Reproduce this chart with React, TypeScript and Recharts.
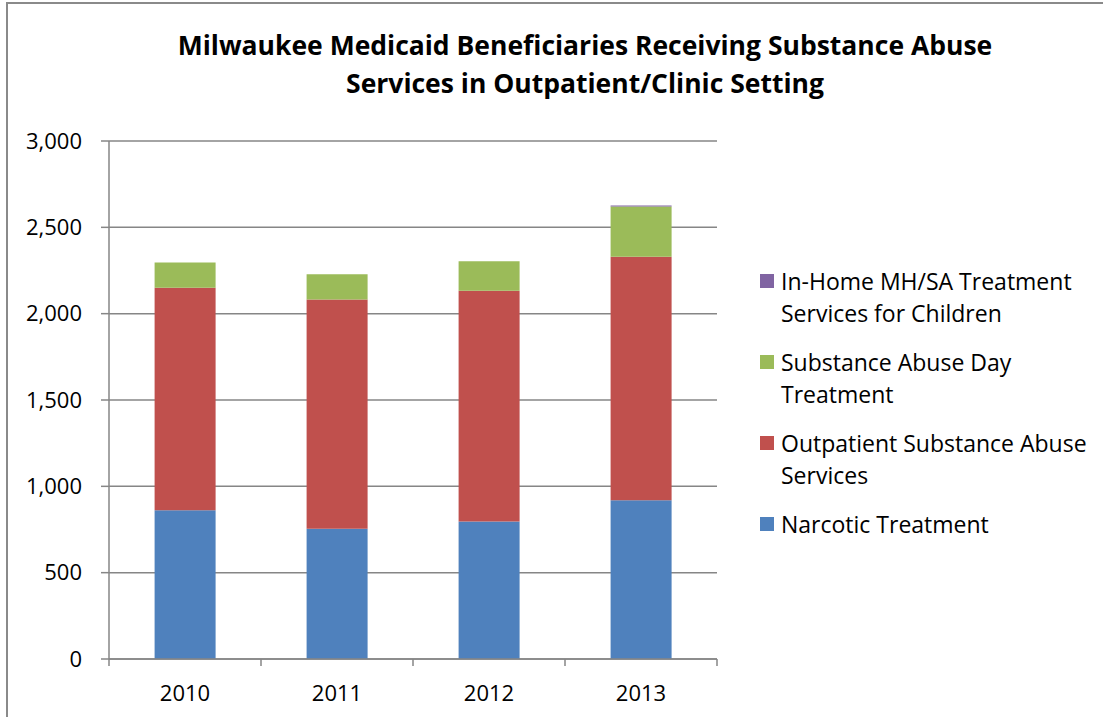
import React from "react"
import {
  Bar,
  BarChart,
  CartesianGrid,
  Legend,
  XAxis,
  YAxis,
} from "recharts"

const years = ["2010", "2011", "2012", "2013"]
const narcotic = [861, 755, 797, 919]
const outpatient = [1289, 1327, 1335, 1410]
const dayTreatment = [147, 147, 172, 292]
const inHome = [0, 0, 0, 6]
const yTicks = [0, 500, 1000, 1500, 2000, 2500, 3000]

const seriesNames = [
  "Narcotic Treatment",
  "Outpatient Substance Abuse Services",
  "Substance Abuse Day Treatment",
  "In-Home MH/SA Treatment Services for Children",
]
// how the legend wraps each name, same order as seriesNames
const legendLines = [
  ["Narcotic Treatment"],
  ["Outpatient Substance Abuse", "Services"],
  ["Substance Abuse Day", "Treatment"],
  ["In-Home MH/SA Treatment", "Services for Children"],
]
const colors = ["#4F81BD", "#C0504D", "#9BBB59", "#8064A2"]

const data = years.map((year, i) => ({
  year,
  narcotic: narcotic[i],
  outpatient: outpatient[i],
  day: dayTreatment[i],
  inHome: inHome[i],
}))

const FONT = "'Open Sans', sans-serif"
const AXIS = "#868686"

function XTick(props: any) {
  const { x, y, payload, index, visibleTicksCount } = props
  const half = payload?.offset || 76
  return (
    <g>
      <line x1={x - half} x2={x - half} y1={y} y2={y + 7} stroke={AXIS} strokeWidth={1.5} />
      {index === visibleTicksCount - 1 && (
        <line x1={x + half} x2={x + half} y1={y} y2={y + 7} stroke={AXIS} strokeWidth={1.5} />
      )}
      <text
        x={x}
        y={y + 33}
        textAnchor="middle"
        dominantBaseline="central"
        fontSize={22}
        fontFamily={FONT}
        fill="#000"
      >
        {payload.value}
      </text>
    </g>
  )
}

function LegendBox() {
  const order = [3, 2, 1, 0]
  return (
    <div style={{ fontFamily: FONT, fontSize: 23, color: "#000", textAlign: "left" }}>
      {order.map((i) => (
        <div key={seriesNames[i]} style={{ display: "flex", alignItems: "flex-start", marginBottom: 17 }}>
          <div
            style={{
              width: 14,
              height: 14,
              background: colors[i],
              marginTop: 9,
              marginRight: 7,
              flexShrink: 0,
            }}
          />
          <div style={{ lineHeight: "32px" }}>
            {legendLines[i].map((l) => (
              <div key={l} style={{ whiteSpace: "nowrap" }}>{l}</div>
            ))}
          </div>
        </div>
      ))}
    </div>
  )
}

export default function App() {
  return (
    <div
      style={{
        position: "absolute",
        left: 0,
        top: 0,
        width: 1103,
        height: 717,
        background: "#fff",
        overflow: "hidden",
      }}
    >
      <div
        style={{
          position: "absolute",
          left: 6,
          top: 2,
          right: -10,
          bottom: -10,
          borderTop: "2px solid #8a8a8a",
          borderLeft: "2px solid #8a8a8a",
        }}
      />
      <div
        style={{
          position: "absolute",
          left: 0,
          width: 1170,
          top: 26,
          textAlign: "center",
          fontFamily: FONT,
          fontWeight: 700,
          fontSize: 26.5,
          lineHeight: "38px",
          color: "#000",
        }}
      >
        Milwaukee Medicaid Beneficiaries Receiving Substance Abuse
        <br />
        Services in Outpatient/Clinic Setting
      </div>
      <div style={{ position: "absolute", left: 0, top: 0 }}>
        <BarChart
          width={1103}
          height={717}
          data={data}
          margin={{ top: 141, right: 386, bottom: 28, left: 49 }}
          barCategoryGap="30%"
        >
          <CartesianGrid vertical={false} stroke={AXIS} strokeWidth={1.5} />
          <XAxis
            dataKey="year"
            axisLine={{ stroke: AXIS, strokeWidth: 1.5 }}
            tickLine={false}
            tickSize={0}
            tickMargin={0}
            height={30}
            tick={<XTick />}
            interval={0}
          />
          <YAxis
            width={60}
            domain={[0, 3000]}
            ticks={yTicks}
            interval={0}
            axisLine={{ stroke: AXIS, strokeWidth: 1.5 }}
            tickLine={{ stroke: AXIS, strokeWidth: 1.5 }}
            tickSize={8}
            tickMargin={19}
            tick={{ fontSize: 22, fontFamily: FONT, fill: "#000" }}
            tickFormatter={(v: number) => v.toLocaleString("en-US")}
          />
          <Legend
            layout="horizontal"
            verticalAlign="middle"
            align="center"
            wrapperStyle={{ position: "absolute", left: 760, top: 265, width: 340 }}
            content={() => <LegendBox />}
          />
          <Bar dataKey="narcotic" name={seriesNames[0]} stackId="a" fill={colors[0]} isAnimationActive={false} />
          <Bar dataKey="outpatient" name={seriesNames[1]} stackId="a" fill={colors[1]} isAnimationActive={false} />
          <Bar dataKey="day" name={seriesNames[2]} stackId="a" fill={colors[2]} isAnimationActive={false} />
          <Bar dataKey="inHome" name={seriesNames[3]} stackId="a" fill={colors[3]} isAnimationActive={false} />
        </BarChart>
      </div>
    </div>
  )
}
